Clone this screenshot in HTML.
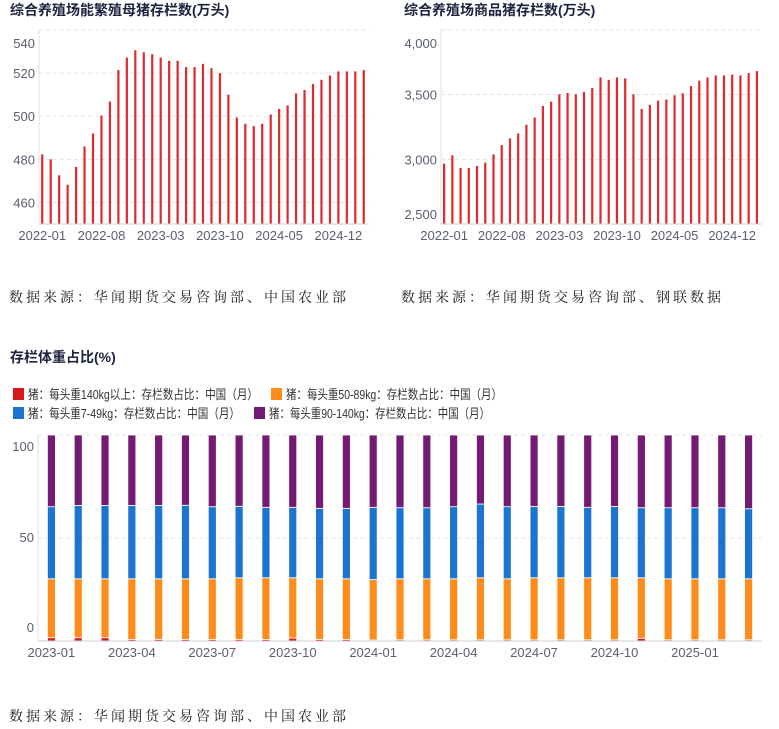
<!DOCTYPE html>
<html><head><meta charset="utf-8">
<style>
body{margin:0;background:#fff;width:779px;height:729px;overflow:hidden;font-family:"Liberation Sans","Noto Sans CJK SC",sans-serif;}
svg{position:absolute;left:0;top:0}
.t{font-weight:bold;font-size:14px;fill:#1c2340}
.ax{font-size:13px;fill:#5a5f6e}
.lg{font-size:13px;fill:#333}
.src{font-family:"Noto Serif CJK SC","Liberation Serif",serif;font-size:14px;fill:#222;letter-spacing:3px}
</style></head><body>
<svg id="c" width="779" height="729">
<text class="t" x="10" y="15">综合养殖场能繁殖母猪存栏数(万头)</text>
<text class="t" x="404" y="15">综合养殖场商品猪存栏数(万头)</text>
<text class="src" x="9" y="302">数据来源：华闻期货交易咨询部、中国农业部</text>
<text class="src" x="401" y="302">数据来源：华闻期货交易咨询部、钢联数据</text>
<text class="t" x="10" y="362">存栏体重占比(%)</text>
<text class="src" x="9" y="721">数据来源：华闻期货交易咨询部、中国农业部</text>
<g>
<rect x="13" y="388" width="11" height="12" fill="#d7191c"/>
<text class="lg" x="28" y="399" textLength="230" lengthAdjust="spacingAndGlyphs">猪：每头重140kg以上：存栏数占比：中国（月）</text>
<rect x="271" y="388" width="11" height="12" fill="#ff8c1a"/>
<text class="lg" x="286" y="399" textLength="216" lengthAdjust="spacingAndGlyphs">猪：每头重50-89kg：存栏数占比：中国（月）</text>
<rect x="13" y="407" width="11" height="12" fill="#1b74d1"/>
<text class="lg" x="28" y="418" textLength="212" lengthAdjust="spacingAndGlyphs">猪：每头重7-49kg：存栏数占比：中国（月）</text>
<rect x="254" y="407" width="11" height="12" fill="#731a72"/>
<text class="lg" x="269" y="418" textLength="221" lengthAdjust="spacingAndGlyphs">猪：每头重90-140kg：存栏数占比：中国（月）</text>
</g>
</svg>
<script>
const sowMonths=["2022-01","2022-02","2022-03","2022-04","2022-05","2022-06","2022-07","2022-08","2022-09","2022-10","2022-11","2022-12","2023-01","2023-02","2023-03","2023-04","2023-05","2023-06","2023-07","2023-08","2023-09","2023-10","2023-11","2023-12","2024-01","2024-02","2024-03","2024-04","2024-05","2024-06","2024-07","2024-08","2024-09","2024-10","2024-11","2024-12","2025-01","2025-02","2025-03"];
const sowValues=[482.3,480,472.6,468.2,476.5,486,492,500.3,506.8,521.4,527.2,530.6,529.7,528.8,527.2,525.7,525.7,522.8,522.8,524.3,522.3,520,510,499.4,496.5,495.4,496.5,500.8,503.4,505,510.6,512.2,514.9,516.9,518.9,520.8,520.8,520.8,521.4];
const sowTicks=[460,480,500,520,540];
const hogValues=[2967,3031,2933,2933,2949,2974,3038,3110,3162,3200,3267,3323,3413,3446,3503,3513,3503,3521,3551,3633,3615,3633,3626,3503,3390,3421,3454,3462,3495,3510,3567,3608,3633,3649,3649,3656,3649,3667,3682];
const hogTicks=[2500,3000,3500,4000];
const hogTickLabels=["2,500","3,000","3,500","4,000"];
const wMonths=["2023-01","2023-02","2023-03","2023-04","2023-05","2023-06","2023-07","2023-08","2023-09","2023-10","2023-11","2023-12","2024-01","2024-02","2024-03","2024-04","2024-05","2024-06","2024-07","2024-08","2024-09","2024-10","2024-11","2024-12","2025-01","2025-02","2025-03"];
const wRed=[1.6,1.6,1.6,0.8,0.8,0.7,0.7,0.7,0.7,1.4,0.7,0.7,0.5,0.6,0.6,0.6,0.6,0.6,0.6,0.6,0.6,0.6,1.3,0.6,0.6,0.6,0.6];
const wOrange=[28.6,28.6,28.6,29.4,29.4,29.5,29.5,30.0,30.0,29.3,29.5,29.5,29.3,29.6,29.6,29.6,30.1,29.6,30.1,30.1,30.1,30.1,29.4,29.6,29.6,29.6,29.6];
const wBlue=[35.0,35.6,35.6,35.6,35.6,35.7,35.0,34.7,34.2,34.2,34.2,34.2,35.1,34.5,34.5,35.0,35.8,35.0,34.6,34.6,34.2,34.6,34.0,34.5,34.5,34.5,34.0];
const wPurple=[34.8,34.2,34.2,34.2,34.2,34.1,34.8,34.6,35.1,35.1,35.6,35.6,35.1,35.3,35.3,34.8,33.5,34.8,34.7,34.7,35.1,34.7,35.3,35.3,35.3,35.3,35.8];
const wTicks=[0,50,100];

const NS="http://www.w3.org/2000/svg";
const svg=document.getElementById('c');
function mk(tag,attrs,parent){const e=document.createElementNS(NS,tag);for(const k in attrs)e.setAttribute(k,attrs[k]);(parent||svg).appendChild(e);return e;}

function barChart(name,x0,x1,y0,y1,min,max,vals,ticks,tickLabels,labelOffsets,xLabels,xEvery){
  const g=mk('g',{});
  
  
  const ys=v=>y1-(v-min)/(max-min)*(y1-y0);
  const band=(x1-x0)/vals.length;
  const xs=i=>x0+band*(i+0.5)-1;
  ticks.forEach((t,i)=>{
    const y=ys(t);
    if(y>y0-1&&y<y1-2){const l=mk('line',{x1:x0,x2:x1,y1:y,y2:y,stroke:'#e3e3e3','stroke-dasharray':'4,3'},g);
    
    }
    const tx=mk('text',{x:x0-4,y:y+5+labelOffsets(t,y),'text-anchor':'end',class:'ax'},g);
    tx.textContent=tickLabels[i];
    
    
  });
  vals.forEach((v,i)=>{
    const y=ys(v);
    const r=mk('rect',{x:xs(i)-1.1,y:y,width:2.2,height:y1-y,fill:'#dc2a2f'},g);
    
    
  });
  const ax=mk('line',{x1:x0,x2:x1,y1:y1,y2:y1,stroke:'#cfcfcf'},g);
  
  
  const ay=mk('line',{x1:x0,x2:x0,y1:y0,y2:y1,stroke:'#e0e0e0'},g);
  
  
  xLabels.forEach((m,i)=>{ if(i%xEvery) return;
    const tx=mk('text',{x:xs(i),y:y1+16,'text-anchor':'middle',class:'ax'},g);
    tx.textContent=m;
    
    
  });
}
barChart('sow-inventory-chart',39,369,30,224,450,540,sowValues,sowTicks,sowTicks.map(String),(t,y)=>y<35?13:0,sowMonths,7);
barChart('hog-inventory-chart',441,762,30,224,2500,4000,hogValues,hogTicks,hogTickLabels,(t,y)=>(y<35?13:(y>220?-10:0)),sowMonths,7);

(function(){
  const x0=38,x1=762,y0=435,y1=641;
  const g=mk('g',{});
  
  
  const ys=v=>y1-v/100*(y1-y0);
  const band=(x1-x0)/wMonths.length;
  const xs=i=>x0+band*(i+0.5);
  wTicks.forEach(t=>{
    const y=ys(t);
    if(t>0){const l=mk('line',{x1:x0,x2:x1,y1:y,y2:y,stroke:'#e3e3e3','stroke-dasharray':'4,3'},g);
    
    }
    const off=t===100?16:(t===0?-9:4);
    const tx=mk('text',{x:x0-4,y:y+off,'text-anchor':'end',class:'ax'},g);
    tx.textContent=String(t);
    
    
  });
  const series=[[wRed,'#d7191c','red'],[wOrange,'#ff8c1a','orange'],[wBlue,'#1b74d1','blue'],[wPurple,'#731a72','purple']];
  wMonths.forEach((m,i)=>{
    let acc=0;
    series.forEach(s=>{
      const v=s[0][i];
      const ya=ys(acc+v),yb=ys(acc);
      const r=mk('rect',{x:xs(i)-4,y:ya,width:8,height:Math.max(0,yb-ya),fill:s[1],stroke:'#fff','stroke-width':0.8},g);
      
      
      acc+=v;
    });
  });
  const ax=mk('line',{x1:x0,x2:x1,y1:y1,y2:y1,stroke:'#cfcfcf'},g);
  
  
  const ay=mk('line',{x1:x0,x2:x0,y1:y0,y2:y1,stroke:'#e0e0e0'},g);
  
  
  wMonths.forEach((m,i)=>{ if(i%3) return;
    const tx=mk('text',{x:xs(i),y:y1+16,'text-anchor':'middle',class:'ax'},g);
    tx.textContent=m;
    
    
  });
})();
</script>
</body></html>
